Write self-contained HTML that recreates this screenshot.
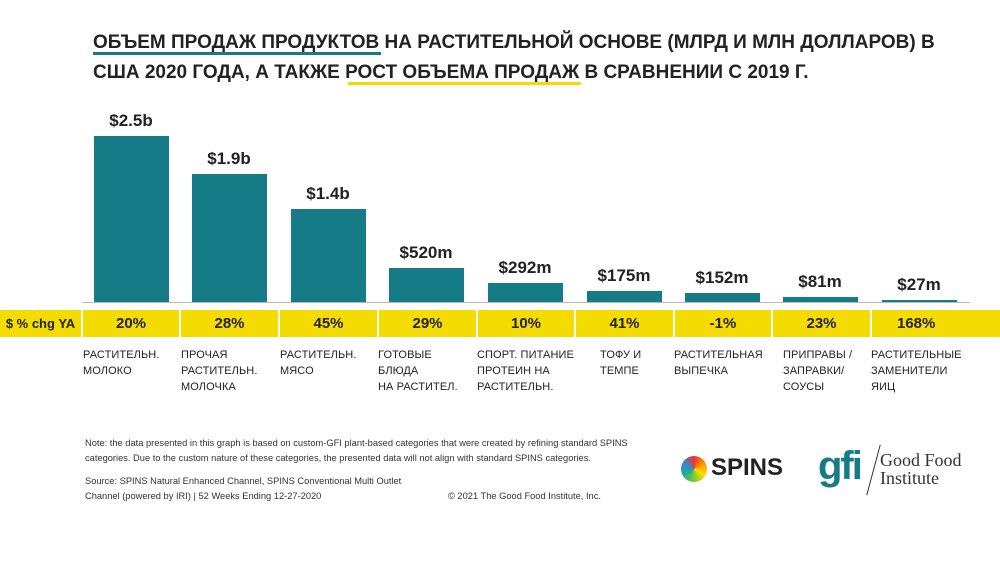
<!DOCTYPE html><html><head><meta charset="utf-8"><style>
body{margin:0;width:1000px;height:570px;background:#fff;font-family:"Liberation Sans","Noto Sans CJK SC",sans-serif;position:relative;overflow:hidden}
.a{position:absolute}
.t{left:93px;top:28px;font-size:19px;font-weight:bold;color:#222;line-height:30px;letter-spacing:0}
.bar{position:absolute;background:#157c87;width:75px}
.v{position:absolute;width:100px;text-align:center;font-weight:bold;font-size:17px;color:#222}
.y{position:absolute;top:310px;height:27px;background:#f5dc00;font-weight:bold;font-size:15px;line-height:27px;text-align:center;color:#222}
.l{position:absolute;top:347px;font-size:11px;line-height:16px;color:#222;letter-spacing:.1px}
.n{font-size:9.3px;color:#333;line-height:15px}
</style></head><body>
<div class="a t">ОБЪЕМ ПРОДАЖ ПРОДУКТОВ НА РАСТИТЕЛЬНОЙ ОСНОВЕ (МЛРД И МЛН ДОЛЛАРОВ) В<br>США 2020 ГОДА, А ТАКЖЕ РОСТ ОБЪЕМА ПРОДАЖ В СРАВНЕНИИ С 2019 Г.</div>
<div class="a" style="left:93px;top:52px;width:288px;height:3px;background:#157c87"></div>
<div class="a" style="left:348px;top:82px;width:233px;height:3px;background:#f5dc00"></div>
<div class="a" style="left:82px;top:302px;width:888px;height:1px;background:#bbb"></div>
<div class="bar" style="left:94px;top:136px;height:166px"></div><div class="v" style="left:81px;top:111px">$2.5b</div>
<div class="bar" style="left:192px;top:174px;height:128px"></div><div class="v" style="left:179px;top:149px">$1.9b</div>
<div class="bar" style="left:291px;top:209px;height:93px"></div><div class="v" style="left:278px;top:184px">$1.4b</div>
<div class="bar" style="left:389px;top:268px;height:34px"></div><div class="v" style="left:376px;top:243px">$520m</div>
<div class="bar" style="left:488px;top:283px;height:19px"></div><div class="v" style="left:475px;top:258px">$292m</div>
<div class="bar" style="left:587px;top:291px;height:11px"></div><div class="v" style="left:574px;top:266px">$175m</div>
<div class="bar" style="left:685px;top:293px;height:9px"></div><div class="v" style="left:672px;top:268px">$152m</div>
<div class="bar" style="left:783px;top:297px;height:5px"></div><div class="v" style="left:770px;top:272px">$81m</div>
<div class="bar" style="left:882px;top:300px;height:2px"></div><div class="v" style="left:869px;top:275px">$27m</div>
<div class="y" style="left:0;width:81px;font-size:13px">$ % chg YA</div>
<div class="y" style="left:83px;width:96px">20%</div>
<div class="y" style="left:181px;width:97px">28%</div>
<div class="y" style="left:280px;width:97px">45%</div>
<div class="y" style="left:379px;width:97px">29%</div>
<div class="y" style="left:478px;width:96px">10%</div>
<div class="y" style="left:576px;width:97px">41%</div>
<div class="y" style="left:675px;width:96px">-1%</div>
<div class="y" style="left:773px;width:97px">23%</div>
<div class="y" style="left:872px;width:128px;text-align:left;padding-left:25px;box-sizing:border-box">168%</div>
<div class="l" style="left:83px">РАСТИТЕЛЬН.<br>МОЛОКО</div>
<div class="l" style="left:181px">ПРОЧАЯ<br>РАСТИТЕЛЬН.<br>МОЛОЧКА</div>
<div class="l" style="left:280px">РАСТИТЕЛЬН.<br>МЯСО</div>
<div class="l" style="left:378px">ГОТОВЫЕ<br>БЛЮДА<br>НА РАСТИТЕЛ.</div>
<div class="l" style="left:477px">СПОРТ. ПИТАНИЕ<br>ПРОТЕИН НА<br>РАСТИТЕЛЬН.</div>
<div class="l" style="left:600px">ТОФУ И<br>ТЕМПЕ</div>
<div class="l" style="left:674px">РАСТИТЕЛЬНАЯ<br>ВЫПЕЧКА</div>
<div class="l" style="left:783px">ПРИПРАВЫ /<br>ЗАПРАВКИ/<br>СОУСЫ</div>
<div class="l" style="left:871px">РАСТИТЕЛЬНЫЕ<br>ЗАМЕНИТЕЛИ<br>ЯИЦ</div>
<div class="a n" style="left:85px;top:436px">Note: the data presented in this graph is based on custom-GFI plant-based categories that were created by refining standard SPINS<br>categories. Due to the custom nature of these categories, the presented data will not align with standard SPINS categories.</div>
<div class="a n" style="left:85px;top:474px">Source: SPINS Natural Enhanced Channel, SPINS Conventional Multi Outlet<br>Channel (powered by IRI) | 52 Weeks Ending 12-27-2020</div>
<div class="a n" style="left:448px;top:489px">© 2021 The Good Food Institute, Inc.</div>
<div class="a" style="left:681px;top:456px;width:26px;height:26px;border-radius:50%;background:conic-gradient(#e33,#f90,#fd0,#7c3,#2a9,#38c,#e33)"></div>
<div class="a" style="left:711px;top:454px;font-size:24px;font-weight:900;color:#222">SPINS</div>
<div class="a" style="left:818px;top:444px;font-size:40px;font-weight:bold;color:#157c87;letter-spacing:-2px">gfi</div>
<div class="a" style="left:873px;top:444px;width:1px;height:52px;background:#333;transform:rotate(15deg)"></div>
<div class="a" style="left:880px;top:451px;font-family:'Liberation Serif',serif;font-size:18px;line-height:18px;color:#333">Good Food<br>Institute</div>
</body></html>
